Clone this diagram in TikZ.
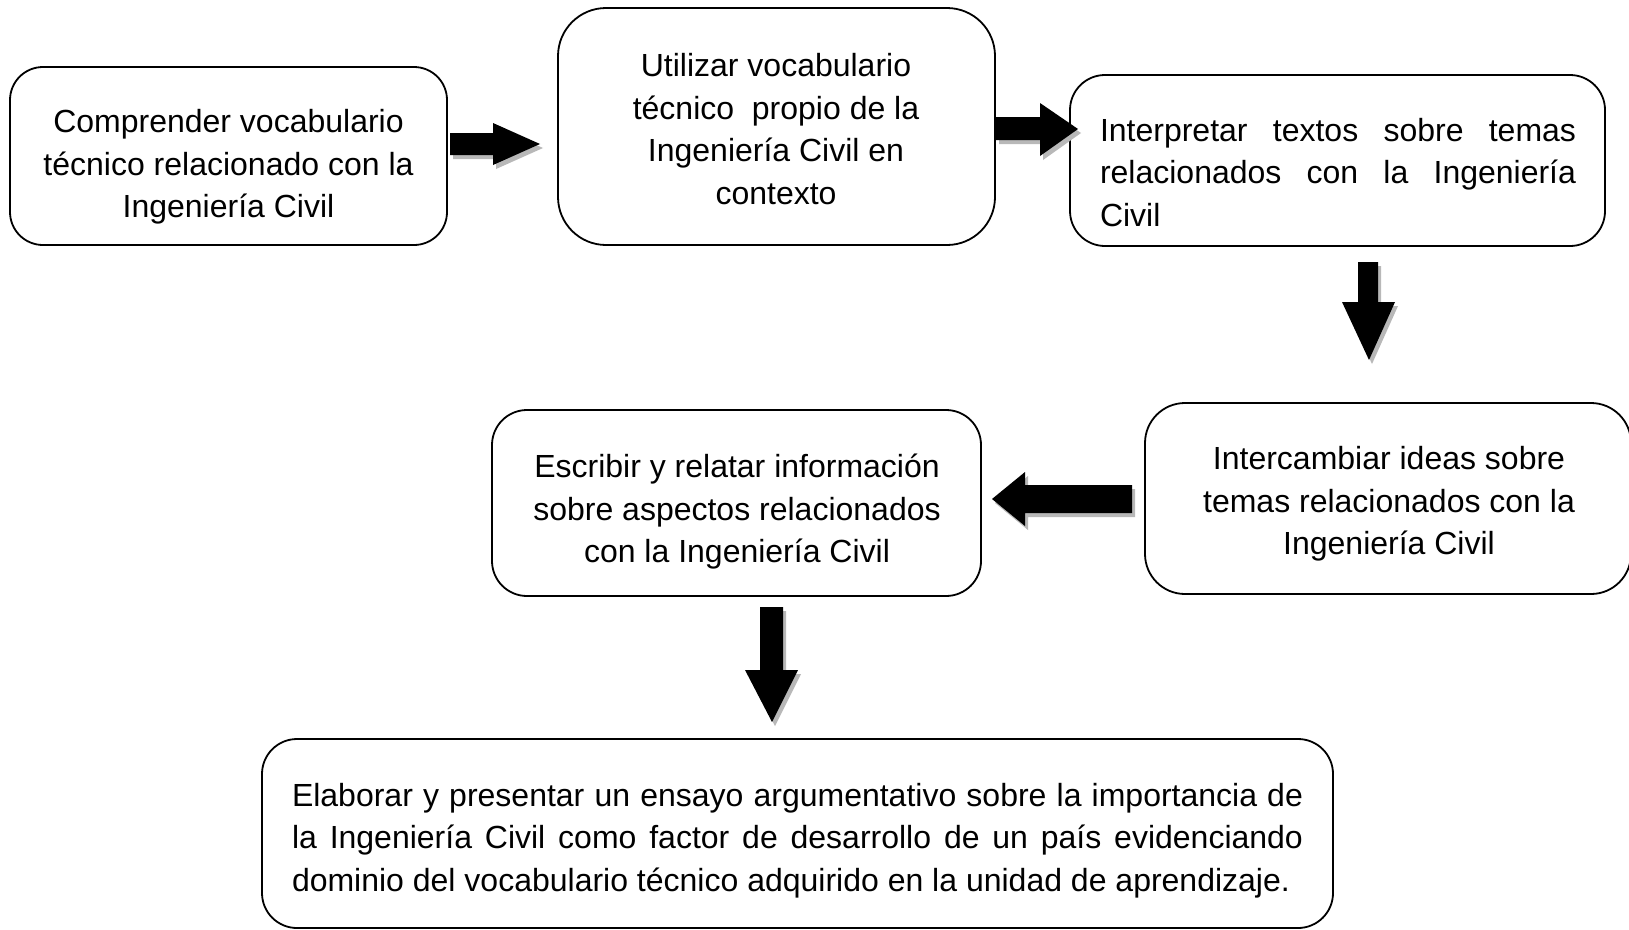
\documentclass[tikz,border=0pt]{standalone}
\usepackage{fontspec}
\setmainfont{Liberation Sans}
\begin{document}
\begin{tikzpicture}[x=1pt,y=-1pt,
  box/.style={draw=black,line width=1.8pt,fill=white,rectangle,inner sep=0pt},
  txt/.style={inner sep=0pt,font=\fontsize{32}{42.5}\selectfont},
  arrfill/.style={fill=black},
  arrshadow/.style={fill=black!28}]
\clip (0,0) rectangle (1629,929);
\fill[white] (0,0) rectangle (1629,929);
% boxes
\node[box,rounded corners=33pt,minimum width=437pt,minimum height=178pt] (b1) at (228.5,156) {};
\node[box,rounded corners=48pt,minimum width=437pt,minimum height=237pt] (b2) at (776.5,126.5) {};
\node[box,rounded corners=35pt,minimum width=535pt,minimum height=171pt] (b3) at (1337.5,160.5) {};
\node[box,rounded corners=40pt,minimum width=486pt,minimum height=191pt] (b4) at (1388,498.5) {};
\node[box,rounded corners=35pt,minimum width=489pt,minimum height=186pt] (b5) at (736.5,503) {};
\node[box,rounded corners=35pt,minimum width=1071pt,minimum height=189pt] (b6) at (797.5,833.5) {};
% texts
\node[txt,align=center] (t1) at (228.5,167) {Comprender vocabulario\\técnico relacionado con la\\Ingeniería Civil};
\node[txt,align=center] (t2) at (776,129) {Utilizar vocabulario\\técnico\ \ propio de la\\Ingeniería Civil en\\contexto};
\node[txt,align=justify,text width=476pt] (t3) at (1338,172.5) {Interpretar textos sobre temas\linebreak relacionados con la Ingeniería\linebreak Civil};
\node[txt,align=center] (t4) at (1389,504) {Intercambiar ideas sobre\\temas relacionados con la\\Ingeniería Civil};
\node[txt,align=center] (t5) at (737,512) {Escribir y relatar información\\sobre aspectos relacionados\\con la Ingeniería Civil};
\node[txt,align=justify,text width=1011pt] (t6) at (797.5,840.5) {Elaborar y presentar un ensayo argumentativo sobre la importancia de\linebreak la Ingeniería Civil como factor de desarrollo de un país evidenciando\linebreak dominio del vocabulario técnico adquirido en la unidad de aprendizaje.};
% block arrows with shadows
\foreach \p in {
  {(450,133) -- (493,133) -- (493,123) -- (540,144) -- (493,165) -- (493,155) -- (450,155) -- cycle},
  {(996,117) -- (1040,117) -- (1040,103) -- (1078,129) -- (1040,156) -- (1040,140) -- (996,140) -- cycle},
  {(1358,262) -- (1378,262) -- (1378,302) -- (1395,302) -- (1369,360) -- (1342,302) -- (1358,302) -- cycle},
  {(1132,485) -- (1025,485) -- (1025,472) -- (992,499) -- (1025,526) -- (1025,513) -- (1132,513) -- cycle},
  {(760,607) -- (783,607) -- (783,670) -- (798,670) -- (772,722) -- (745,670) -- (760,670) -- cycle}}
{
  \fill[arrshadow,shift={(3,4)}] \p;
  \fill[arrfill] \p;
}
\end{tikzpicture}
\end{document}
